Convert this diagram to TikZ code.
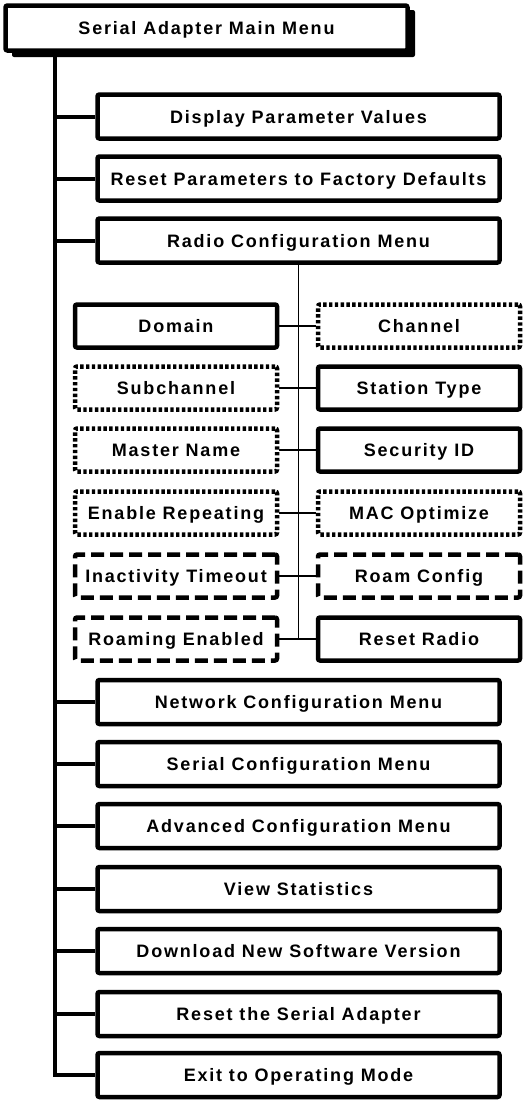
\documentclass[tikz,border=0pt]{standalone}
\usepackage{fontspec}
\setmainfont{Liberation Sans}[LetterSpace=10]
\begin{document}
\begin{tikzpicture}[x=1pt,y=-1pt,
  lab/.style={font=\fontsize{18}{20}\selectfont\bfseries, text height=13pt, text depth=0pt},
  box/.style={draw=black, fill=white, line width=4.5pt, rounded corners=2pt, inner sep=0pt, lab},
  menubox/.style={box, minimum width=402pt, minimum height=44pt},
  subbox/.style={box, minimum width=202pt, minimum height=43pt},
  dotbox/.style={subbox, dash pattern=on 3.4pt off 2.4pt},
  dashbox/.style={subbox, dash pattern=on 13pt off 6pt},
  trunk/.style={line width=4pt},
  thin/.style={line width=1.3pt}]
\useasboundingbox (0,0) rectangle (524,1100);
% title with shadow
\fill[black, rounded corners=2pt] (12,10) rectangle (415,57);
\node[box, minimum width=402pt, minimum height=45pt] (title) at (206.5,28) {Serial Adapter Main Menu};
\coordinate (tk) at (55,0);
% main menu items
\node[menubox] (disp) at (298.5,116.5) {Display Parameter Values};
\node[menubox] (resetp) at (298.5,178.5) {Reset Parameters to Factory Defaults};
\node[menubox] (radio) at (298.5,240.5) {Radio Configuration Menu};
\node[menubox] (net) at (298.5,702) {Network Configuration Menu};
\node[menubox] (ser) at (298.5,764) {Serial Configuration Menu};
\node[menubox] (adv) at (298.5,826) {Advanced Configuration Menu};
\node[menubox] (view) at (298.5,889) {View Statistics};
\node[menubox] (down) at (298.5,951) {Download New Software Version};
\node[menubox] (resets) at (298.5,1014) {Reset the Serial Adapter};
\node[menubox] (exit) at (298.5,1075) {Exit to Operating Mode};
% radio sub items
\node[subbox] (domain) at (176,326) {Domain};
\node[dotbox] (channel) at (419,326) {Channel};
\node[dotbox] (subch) at (176,388) {Subchannel};
\node[subbox] (stype) at (419,388) {Station Type};
\node[dotbox] (master) at (176,450) {Master Name};
\node[subbox] (secid) at (419,450) {Security ID};
\node[dotbox] (enrep) at (176,513) {Enable Repeating};
\node[dotbox] (macopt) at (419,513) {MAC Optimize};
\node[dashbox] (inact) at (176,576) {Inactivity Timeout};
\node[dashbox] (roamc) at (419,576) {Roam Config};
\node[dashbox] (roamen) at (176,639) {Roaming Enabled};
\node[subbox] (resetr) at (419,639) {Reset Radio};
% trunk and branches
\draw[trunk] (title.south -| tk) |- (exit.west);
\foreach \m in {disp,resetp,radio,net,ser,adv,view,down,resets}
  \draw[trunk] (\m.west) -- (\m.west -| tk);
% radio connectors
\draw[thin] (radio.south) -- (radio.south |- resetr.west);
\draw[thin] (domain.east) -- (channel.west);
\draw[thin] (subch.east) -- (stype.west);
\draw[thin] (master.east) -- (secid.west);
\draw[thin] (enrep.east) -- (macopt.west);
\draw[thin] (inact.east) -- (roamc.west);
\draw[thin] (roamen.east) -- (resetr.west);
\end{tikzpicture}
\end{document}
